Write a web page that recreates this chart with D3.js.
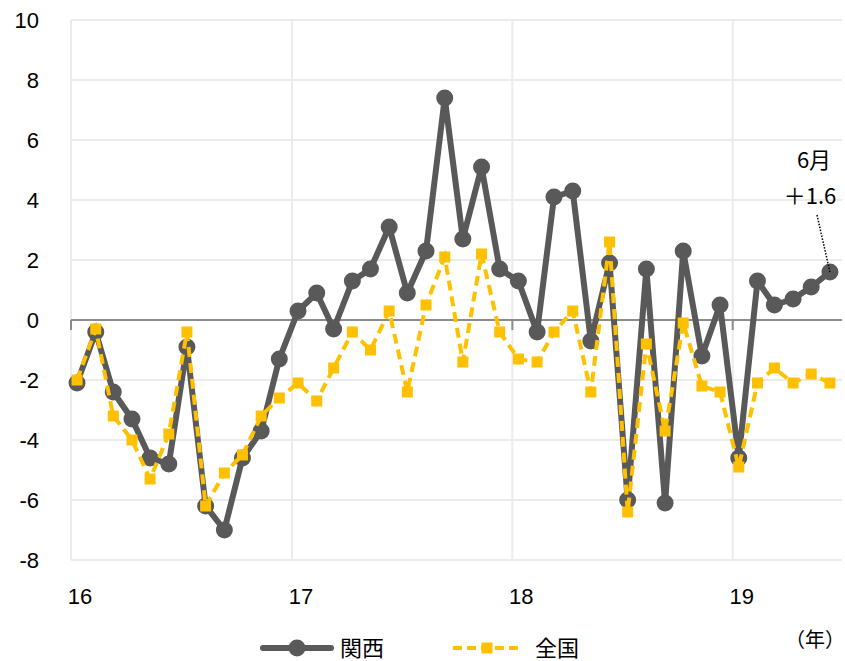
<!DOCTYPE html>
<html>
<head>
<meta charset="utf-8">
<script src="https://cdn.jsdelivr.net/npm/d3@7"></script>
<style>
  html, body { margin: 0; padding: 0; background: #fff; }
  svg { display: block; }
</style>
</head>
<body>
<svg id="chart" width="845" height="661"></svg>
<script>
// Monthly observations, Jan 2016 – Jun 2019 (year-on-year change, %)
const months = [
  "2016-01","2016-02","2016-03","2016-04","2016-05","2016-06","2016-07","2016-08","2016-09","2016-10","2016-11","2016-12",
  "2017-01","2017-02","2017-03","2017-04","2017-05","2017-06","2017-07","2017-08","2017-09","2017-10","2017-11","2017-12",
  "2018-01","2018-02","2018-03","2018-04","2018-05","2018-06","2018-07","2018-08","2018-09","2018-10","2018-11","2018-12",
  "2019-01","2019-02","2019-03","2019-04","2019-05","2019-06"
];
const kansai = [
  -2.1, -0.4, -2.4, -3.3, -4.6, -4.8, -0.9, -6.2, -7.0, -4.6, -3.7, -1.3,
   0.3,  0.9, -0.3,  1.3,  1.7,  3.1,  0.9,  2.3,  7.4,  2.7,  5.1,  1.7,
   1.3, -0.4,  4.1,  4.3, -0.7,  1.9, -6.0,  1.7, -6.1,  2.3, -1.2,  0.5,
  -4.6,  1.3,  0.5,  0.7,  1.1,  1.6
];
const zenkoku = [
  -2.0, -0.3, -3.2, -4.0, -5.3, -3.8, -0.4, -6.2, -5.1, -4.5, -3.2, -2.6,
  -2.1, -2.7, -1.6, -0.4, -1.0,  0.3, -2.4,  0.5,  2.1, -1.4,  2.2, -0.4,
  -1.3, -1.4, -0.4,  0.3, -2.4,  2.6, -6.4, -0.8, -3.7, -0.1, -2.2, -2.4,
  -4.9, -2.1, -1.6, -2.1, -1.8, -2.1
];
const yTicks = [10, 8, 6, 4, 2, 0, -2, -4, -6, -8];
const yearLabels = ["16", "17", "18", "19"];
const seriesNames = ["関西", "全国"];
const lastLabel = ["6月", "＋1.6"];

const svg = d3.select("#chart");
const parse = d3.timeParse("%Y-%m-%d");
const dates = months.map(m => parse(m + "-11"));
const yearStarts = yearLabels.map(y => parse("20" + y + "-01-01"));

const x = d3.scaleTime()
  .domain([parse("2016-01-01"), parse("2019-07-01")])
  .range([71, 842]);
const y = d3.scaleLinear().domain([-8, 10]).range([560, 20]);

const gridColor = "#ebebeb";
const numFont = "'Liberation Sans', Arial, sans-serif";
const jpFont = "'Noto Sans CJK JP', 'Noto Sans', sans-serif";

// horizontal grid
svg.append("g")
  .selectAll("line")
  .data(yTicks.filter(v => v !== 0))
  .join("line")
  .attr("x1", x.range()[0]).attr("x2", x.range()[1])
  .attr("y1", d => y(d)).attr("y2", d => y(d))
  .attr("stroke", gridColor).attr("stroke-width", 2);

// vertical grid at each year start
svg.append("g")
  .selectAll("line")
  .data(yearStarts)
  .join("line")
  .attr("x1", d => x(d)).attr("x2", d => x(d))
  .attr("y1", y(10)).attr("y2", y(-8))
  .attr("stroke", gridColor).attr("stroke-width", 2);

// y tick labels
svg.append("g")
  .selectAll("text")
  .data(yTicks)
  .join("text")
  .attr("x", 39).attr("y", d => y(d))
  .attr("dy", "0.36em")
  .attr("text-anchor", "end")
  .attr("font-family", numFont).attr("font-size", 22)
  .attr("fill", "#000")
  .text(d => d);

// zero axis with year ticks
svg.append("line")
  .attr("x1", x.range()[0]).attr("x2", x.range()[1])
  .attr("y1", y(0)).attr("y2", y(0))
  .attr("stroke", "#8c8c8c").attr("stroke-width", 2);
svg.append("g")
  .selectAll("line")
  .data(yearStarts)
  .join("line")
  .attr("x1", d => x(d)).attr("x2", d => x(d))
  .attr("y1", y(0)).attr("y2", y(0) + 10)
  .attr("stroke", "#8c8c8c").attr("stroke-width", 2);

// year labels
svg.append("g")
  .selectAll("text")
  .data(yearLabels)
  .join("text")
  .attr("x", (d, i) => x(yearStarts[i]) + 9)
  .attr("y", 596)
  .attr("dy", "0.36em")
  .attr("text-anchor", "middle")
  .attr("font-family", numFont).attr("font-size", 22)
  .attr("fill", "#000")
  .text(d => d);

const kansaiColor = "#595959";
const zenColor = "#ffc000";

const line = d3.line().x((d, i) => x(dates[i])).y(d => y(d));

// 関西
svg.append("path")
  .datum(kansai)
  .attr("d", line)
  .attr("fill", "none")
  .attr("stroke", kansaiColor).attr("stroke-width", 6)
  .attr("stroke-linejoin", "round");
svg.append("g")
  .selectAll("circle")
  .data(kansai)
  .join("circle")
  .attr("cx", (d, i) => x(dates[i])).attr("cy", d => y(d))
  .attr("r", 8.5)
  .attr("fill", kansaiColor);

// 全国
svg.append("path")
  .datum(zenkoku)
  .attr("d", line)
  .attr("fill", "none")
  .attr("stroke", zenColor).attr("stroke-width", 4)
  .attr("stroke-dasharray", "10,6");
svg.append("g")
  .selectAll("rect")
  .data(zenkoku)
  .join("rect")
  .attr("x", (d, i) => x(dates[i]) - 5.5).attr("y", d => y(d) - 5.5)
  .attr("width", 11).attr("height", 11)
  .attr("fill", zenColor);

// label for the latest 関西 value
const lastI = kansai.length - 1;
const lx = x(dates[lastI]), ly = y(kansai[lastI]);
svg.append("line")
  .attr("x1", 817).attr("y1", 215)
  .attr("x2", lx).attr("y2", ly)
  .attr("stroke", "#000").attr("stroke-width", 1.5)
  .attr("stroke-dasharray", "1.5,1.5");
svg.append("text")
  .attr("x", 814).attr("y", 160).attr("dy", "0.36em")
  .attr("text-anchor", "middle")
  .attr("font-family", jpFont).attr("font-size", 22)
  .attr("fill", "#000")
  .text(lastLabel[0]);
svg.append("text")
  .attr("x", 810).attr("y", 196).attr("dy", "0.36em")
  .attr("text-anchor", "middle")
  .attr("font-family", jpFont).attr("font-size", 22)
  .attr("fill", "#000")
  .text(lastLabel[1]);

// legend
const legY = 648;
const leg1 = svg.append("g");
leg1.append("line")
  .attr("x1", 263).attr("x2", 331).attr("y1", legY).attr("y2", legY)
  .attr("stroke", kansaiColor).attr("stroke-width", 6).attr("stroke-linecap", "round");
leg1.append("circle").attr("cx", 297).attr("cy", legY).attr("r", 8.5).attr("fill", kansaiColor);
leg1.append("text")
  .attr("x", 340).attr("y", legY).attr("dy", "0.36em")
  .attr("font-family", jpFont).attr("font-size", 22).attr("fill", "#000")
  .text(seriesNames[0]);

const leg2 = svg.append("g");
leg2.append("line")
  .attr("x1", 453).attr("x2", 521).attr("y1", legY).attr("y2", legY)
  .attr("stroke", zenColor).attr("stroke-width", 4).attr("stroke-dasharray", "9,5");
leg2.append("rect").attr("x", 481.5).attr("y", legY - 5.5).attr("width", 11).attr("height", 11).attr("fill", zenColor);
leg2.append("text")
  .attr("x", 535).attr("y", legY).attr("dy", "0.36em")
  .attr("font-family", jpFont).attr("font-size", 22).attr("fill", "#000")
  .text(seriesNames[1]);

// unit label
svg.append("text")
  .attr("x", 845).attr("y", 640).attr("dy", "0.36em")
  .attr("text-anchor", "end")
  .attr("font-family", jpFont).attr("font-size", 20).attr("fill", "#000")
  .text("（年）");
</script>
</body>
</html>
